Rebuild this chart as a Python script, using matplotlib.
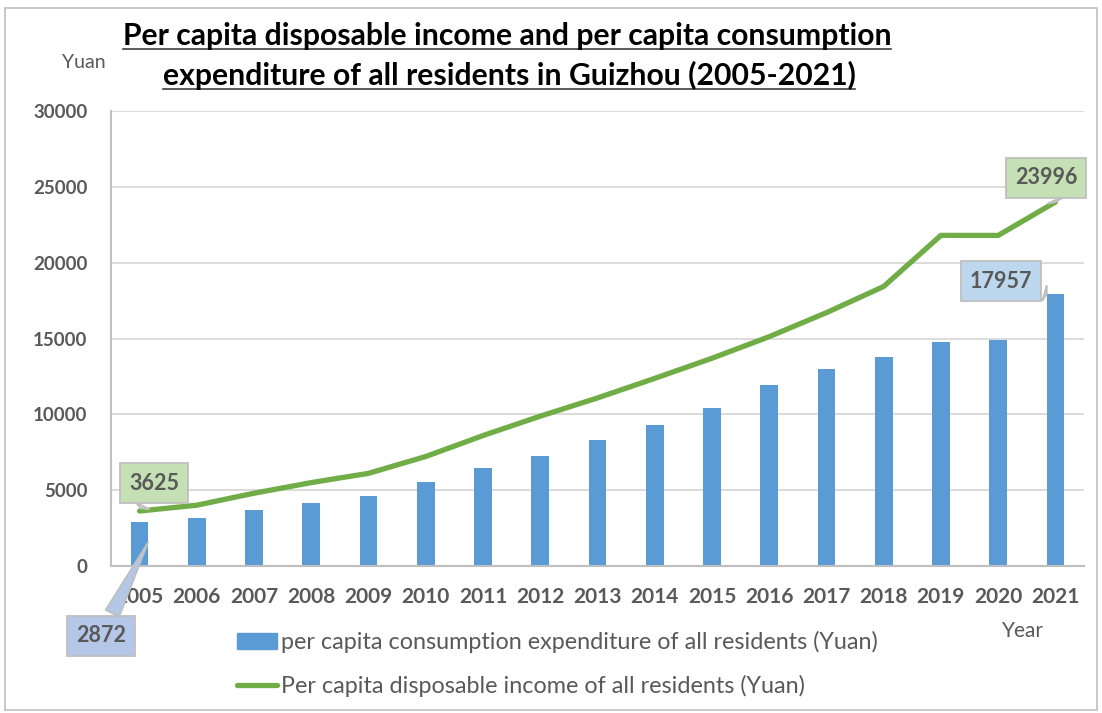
import numpy as np
import matplotlib.pyplot as plt
from matplotlib.lines import Line2D
from matplotlib.patches import Rectangle, Patch

plt.rcParams['font.family'] = ['Lato', 'DejaVu Sans']

# data
years = ['2005', '2006', '2007', '2008', '2009', '2010', '2011', '2012', '2013',
         '2014', '2015', '2016', '2017', '2018', '2019', '2020', '2021']
consumption = [2872, 3170, 3690, 4150, 4610, 5540, 6460, 7250, 8290,
               9303, 10414, 11932, 12970, 13798, 14780, 14874, 17957]
income = [3625, 4010, 4800, 5500, 6110, 7220, 8600, 9880, 11080,
          12371, 13697, 15121, 16704, 18430, 21800, 21795, 23996]

blue = '#5B9BD5'
green = '#70AD47'
grey_txt = '#595959'

fig = plt.figure(figsize=(11.02, 7.13), dpi=100)
ax = fig.add_axes([111/1102, 1-566/713, (1084-111)/1102, (566-111)/713])

x = np.arange(len(years))
ax.bar(x, consumption, width=0.31, color=blue, zorder=2)
ax.plot(x, income, color=green, lw=3.8, solid_capstyle='round', zorder=3)

ax.set_xlim(-0.5, len(years)-0.5)
ax.set_ylim(0, 30000)
ax.set_yticks(np.arange(0, 30001, 5000))
ax.set_xticks(x)
ax.set_xticklabels(years)
ax.grid(axis='y', color='#D9D9D9', lw=1.3, zorder=0)
for s in ['top', 'right']:
    ax.spines[s].set_visible(False)
for s in ['left', 'bottom']:
    ax.spines[s].set_color('#BFBFBF')
    ax.spines[s].set_linewidth(1.5)
ax.tick_params(length=0)
ax.tick_params(axis='y', labelsize=13.5, labelcolor=grey_txt, pad=17)
ax.tick_params(axis='x', labelsize=15, labelcolor=grey_txt, pad=15)
for t in ax.get_xticklabels() + ax.get_yticklabels():
    t.set_fontweight('bold')

# axis unit labels
fig.text(84/1102, 1-63/713, 'Yuan', ha='center', va='center', fontsize=14, color=grey_txt)
fig.text(1023/1102, 1-631/713, 'Year', ha='center', va='center', fontsize=15, color=grey_txt)

# title, two underlined lines
t1 = fig.text(507/1102, 1-36/713, 'Per capita disposable income and per capita consumption',
              ha='center', va='center', fontsize=21.7, fontweight='bold', color='black')
t2 = fig.text(509/1102, 1-75/713, 'expenditure of all residents in Guizhou (2005-2021)',
              ha='center', va='center', fontsize=21.7, fontweight='bold', color='black')

# legend
handles = [Patch(color=blue), Line2D([], [], color=green, lw=3.8, solid_capstyle='round')]
labels = ['per capita consumption expenditure of all residents (Yuan)',
          'Per capita disposable income of all residents (Yuan)']
fig.legend(handles, labels, loc='upper left', bbox_to_anchor=(216/1102, 1-610/713),
           frameon=False, fontsize=16.8, labelcolor=grey_txt, handlelength=1.7,
           handleheight=0.7, handletextpad=0.2, labelspacing=0.95)

# callouts
def callout(txt, xy, center, fc):
    ax.annotate(txt, xy=xy, xytext=center, textcoords='figure pixels',
                ha='center', va='center', fontsize=15.5, fontweight='bold', color=grey_txt,
                bbox=dict(boxstyle='square,pad=0.42', fc=fc, ec='#BFBFBF', lw=1.3),
                arrowprops=dict(arrowstyle='wedge,tail_width=0.7,shrink_factor=0.5',
                                fc=fc, ec='#BFBFBF', lw=1.3), zorder=5)

callout(str(income[0]), (0, income[0]), (154, 713-483), '#C5E0B4')
callout(str(consumption[0]), (0.17, consumption[0]*0.6), (101, 713-636), '#B4C7E7')
callout(str(income[-1]), (16, income[-1]), (1046, 713-178), '#C5E0B4')
callout(str(consumption[-1]), (15.85, consumption[-1]), (1001, 713-281), '#BDD7EE')

# underline title lines
fig.canvas.draw()
r = fig.canvas.get_renderer()
for t in (t1, t2):
    bb = t.get_window_extent(r)
    yl = bb.y0 + 1
    fig.add_artist(Line2D([bb.x0/1102, bb.x1/1102], [yl/713, yl/713],
                          transform=fig.transFigure, color='#404040', lw=1.2))

# outer border
fig.add_artist(Rectangle((5/1102, 3/713), 1092/1102, 702/713, transform=fig.transFigure,
                         fill=False, ec='#BFBFBF', lw=1.2))

fig.savefig('out.png', dpi=100)
